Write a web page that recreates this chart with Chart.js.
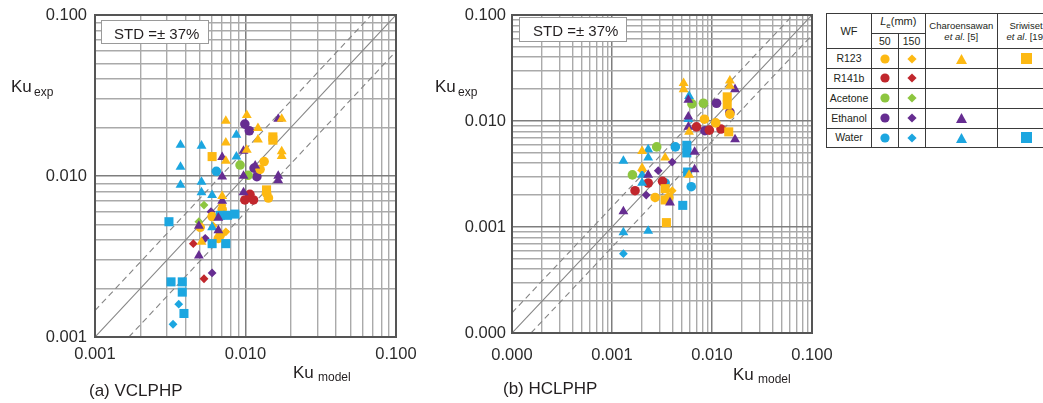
<!DOCTYPE html>
<html><head><meta charset="utf-8">
<script src="https://cdn.jsdelivr.net/npm/chart.js@4"></script>
<style>
html,body{margin:0;padding:0}
body{width:1043px;height:403px;overflow:hidden;background:#fff;position:relative;font-family:"Liberation Sans",Arial,sans-serif;color:#231f20}
canvas{position:absolute;top:0}
.t{position:absolute;white-space:nowrap;line-height:1}
.std{position:absolute;background:#fff;border:1.3px solid #9a9a9a;box-sizing:border-box;font-size:15px;line-height:1;white-space:nowrap}
#lg{position:absolute;left:826px;top:13px;border-collapse:collapse;table-layout:fixed;width:228px;background:#fff;color:#231f20}
#lg td{border:1.2px solid #3a3a3a;padding:0;text-align:center;vertical-align:middle;overflow:hidden;white-space:nowrap;font-size:10.5px;line-height:1}
#lg td.h{font-size:9.5px;line-height:11px}
#lg svg{display:block;margin:0 auto}
</style></head>
<body>
<canvas id="cv" width="420" height="403" style="left:0"></canvas>
<canvas id="ch" width="420" height="403" style="left:420px"></canvas>

<div class="std" style="left:101px;top:20px;width:108px;height:24px"><span style="position:absolute;left:12px;top:5px">STD =± 37%</span></div>
<div class="std" style="left:519px;top:17px;width:108px;height:25px"><span style="position:absolute;left:13px;top:5px">STD =± 37%</span></div>

<div class="t" style="left:11px;top:78px;font-size:17px">Ku</div>
<div class="t" style="left:34px;top:85.5px;font-size:12px">exp</div>
<div class="t" style="left:435px;top:78px;font-size:17px">Ku</div>
<div class="t" style="left:458px;top:85.5px;font-size:12px">exp</div>

<div class="t" style="left:293px;top:363.5px;font-size:17px">Ku</div>
<div class="t" style="left:318px;top:371px;font-size:12px">model</div>
<div class="t" style="left:733px;top:365.5px;font-size:17px">Ku</div>
<div class="t" style="left:758px;top:373px;font-size:12px">model</div>

<div class="t" style="left:89px;top:382px;font-size:17px">(a) VCLPHP</div>
<div class="t" style="left:503px;top:380px;font-size:17px">(b) HCLPHP</div>

<table id="lg">
<colgroup><col style="width:45px"><col style="width:26.5px"><col style="width:27px"><col style="width:72.5px"><col style="width:57px"></colgroup>
<tr style="height:19.5px"><td rowspan="2" style="font-size:11px">WF</td><td colspan="2" style="font-size:11px"><i>L</i><sub style="font-size:8px">e</sub>(mm)</td><td rowspan="2" class="h">Charoensawan<br><i>et al</i>. [5]</td><td rowspan="2" class="h">Sriwiset<br><i>et al</i>. [19]</td></tr>
<tr style="height:15.5px"><td>50</td><td>150</td></tr>
<tr style="height:20px"><td>R123</td><td id="m00"></td><td id="m01"></td><td id="m02"></td><td id="m03"></td></tr>
<tr style="height:19.5px"><td>R141b</td><td id="m10"></td><td id="m11"></td><td></td><td></td></tr>
<tr style="height:20px"><td>Acetone</td><td id="m20"></td><td id="m21"></td><td></td><td></td></tr>
<tr style="height:20px"><td>Ethanol</td><td id="m30"></td><td id="m31"></td><td id="m32"></td><td></td></tr>
<tr style="height:19px"><td>Water</td><td id="m40"></td><td id="m41"></td><td id="m42"></td><td id="m43"></td></tr>
</table>

<script>
// ---------- tick values & labels ----------
const V_TICK_VALUES = [0.001, 0.01, 0.1];
const V_TICK_LABELS = ['0.001', '0.010', '0.100'];
const H_TICK_VALUES = [0.0001, 0.001, 0.01, 0.1];
const H_TICK_LABELS = ['0.000', '0.001', '0.010', '0.100'];
const MINOR_STEPS = [1, 2, 3, 4, 5, 6, 7, 8, 9];

// ---------- (a) VCLPHP data  [Ku_model, Ku_exp] ----------
const V_R123_50   = [[0.0133,0.0123],[0.0125,0.0110],[0.0138,0.0078],[0.0142,0.0073],[0.0070,0.0062],[0.0060,0.0056],[0.0050,0.0048],[0.0066,0.0041],[0.0068,0.0043]];
const V_R123_150  = [[0.0061,0.0049],[0.0074,0.0045],[0.0070,0.0066]];
const V_R123_CH   = [[0.0074,0.0220],[0.0102,0.0239],[0.0121,0.0198],[0.0074,0.0161],[0.0121,0.0168],[0.0174,0.0226],[0.0174,0.0142],[0.0174,0.0133],[0.0074,0.0124],[0.0102,0.0145],[0.0070,0.0075],[0.0051,0.0039]];
const V_R123_SR   = [[0.0060,0.0132],[0.0152,0.0175],[0.0152,0.0167],[0.0138,0.0082]];
const V_R141B_50  = [[0.0099,0.0071],[0.0107,0.0077],[0.0113,0.0071]];
const V_R141B_150 = [[0.0045,0.0038],[0.0053,0.0023]];
const V_ACE_50    = [[0.0092,0.0117],[0.0104,0.0101]];
const V_ACE_150   = [[0.0053,0.0066],[0.0049,0.0052]];
const V_ETH_50    = [[0.0099,0.0210],[0.0106,0.0191],[0.0114,0.0112],[0.0119,0.0099]];
const V_ETH_150   = [[0.0059,0.0060],[0.0054,0.0041],[0.0060,0.0025]];
const V_ETH_CH    = [[0.0165,0.0226],[0.0097,0.0143],[0.0070,0.0131],[0.0070,0.0099],[0.0097,0.0100],[0.0116,0.0116],[0.0165,0.0100],[0.0165,0.0094],[0.0097,0.0079],[0.0070,0.0070],[0.0066,0.0055],[0.0066,0.0046],[0.0049,0.0049],[0.0049,0.0032]];
const V_WAT_50    = [[0.0064,0.0107]];
const V_WAT_150   = [[0.0036,0.0016],[0.0033,0.0012]];
const V_WAT_CH    = [[0.0037,0.0156],[0.0051,0.0154],[0.0037,0.0114],[0.0037,0.0088],[0.0051,0.0092],[0.0051,0.0079],[0.0060,0.0076],[0.0087,0.0180],[0.0087,0.0132],[0.0060,0.0048]];
const V_WAT_SR    = [[0.0031,0.0052],[0.0060,0.0038],[0.0074,0.0038],[0.0068,0.0057],[0.0076,0.0057],[0.0085,0.0058],[0.0032,0.0022],[0.0038,0.0022],[0.0038,0.0019],[0.0039,0.0014]];
const V_LINE_EQUAL = [[0.001,0.001],[0.1,0.1]];
const V_LINE_UPPER = [[0.001,0.00146],[0.0685,0.1]];
const V_LINE_LOWER = [[0.00168,0.001],[0.1,0.0595]];

// ---------- (b) HCLPHP data ----------
const H_R123_50   = [[0.0084,0.0104],[0.0109,0.0096],[0.0151,0.0116],[0.0027,0.0019],[0.0037,0.0019]];
const H_R123_150  = [[0.0020,0.0034],[0.0040,0.0022]];
const H_R123_CH   = [[0.0052,0.0227],[0.0052,0.0199],[0.0151,0.0240],[0.0151,0.0214],[0.0059,0.0079],[0.0034,0.0045],[0.0020,0.0052],[0.0020,0.0036],[0.0059,0.0031]];
const H_R123_SR   = [[0.0142,0.0169],[0.0142,0.0142],[0.0147,0.0079],[0.0034,0.0023],[0.0034,0.0018],[0.0035,0.0011]];
const H_R141B_50  = [[0.0070,0.0088],[0.0094,0.0082],[0.0123,0.0084],[0.0017,0.0022],[0.0023,0.0026],[0.0032,0.0027]];
const H_ACE_50    = [[0.0063,0.0145],[0.0082,0.0147],[0.0028,0.0057],[0.0016,0.0031]];
const H_ETH_50    = [[0.0111,0.0147],[0.0151,0.0121],[0.0085,0.0081]];
const H_ETH_150   = [[0.0029,0.0034],[0.0040,0.0041],[0.0022,0.0020]];
const H_ETH_CH    = [[0.0170,0.0199],[0.0058,0.0158],[0.0058,0.0110],[0.0058,0.0088],[0.0170,0.0067],[0.0067,0.0051],[0.0067,0.0035],[0.0023,0.0031],[0.0038,0.0017],[0.0013,0.0014]];
const H_WAT_50    = [[0.0043,0.0057],[0.0062,0.0024],[0.0034,0.0026]];
const H_WAT_150   = [[0.0013,0.00056]];
const H_WAT_CH    = [[0.0059,0.0172],[0.0058,0.0104],[0.0023,0.0054],[0.0023,0.0045],[0.0013,0.0042],[0.0020,0.0031],[0.0020,0.0026],[0.0013,0.00089],[0.0023,0.00092]];
const H_WAT_SR    = [[0.0056,0.0059],[0.0056,0.0050],[0.0057,0.0033],[0.0051,0.0016]];
const H_LINE_EQUAL = [[0.0001,0.0001],[0.1,0.1]];
const H_LINE_UPPER = [[0.0001,0.000155],[0.0645,0.1]];
const H_LINE_LOWER = [[0.000155,0.0001],[0.1,0.0645]];

// ---------- styles ----------
const COL = {R123:'#FDB913', R141b:'#C1272D', Ace:'#8DC63F', Eth:'#662D91', Wat:'#1CA6E0'};
const MARK = {c50:['circle',4.8], d150:['rectRot',4.4], ch:['triangle',5.7], sr:['rect',6.4]};
const FONT = '"Liberation Sans", Arial, sans-serif';

function pts(a){ return a.map(p => ({x:p[0], y:p[1]})); }
function build(groups, lines){
  const ds = [];
  groups.forEach(g => {
    const m = MARK[g[2]];
    ds.push({label:g[3], data:pts(g[0]), backgroundColor:g[1], borderColor:g[1], borderWidth:0,
      pointStyle:m[0], pointRadius:m[1], pointHoverRadius:m[1], showLine:false, order:1});
  });
  lines.forEach(l => ds.push({data:pts(l[0]), showLine:true, borderColor:'#858585', borderWidth:1.1,
      borderDash:l[1], pointRadius:0, fill:false, order:5}));
  return ds;
}
function isDec(vals, v){ return vals.some(d => Math.abs(d - v) / d < 1e-6); }
function axis(pos, vals, labels, fitSize, pad){
  return {
    type:'logarithmic', position:pos, min:vals[0], max:vals[vals.length-1],
    afterBuildTicks: s => {
      const t = [];
      vals.forEach((d,i) => {
        if (i < vals.length-1) MINOR_STEPS.forEach(m => t.push({value: +(d*m).toPrecision(6)}));
        else t.push({value:d});
      });
      s.ticks = t;
    },
    afterFit: s => {
      if (pos === 'left') s.width = fitSize; else s.height = fitSize;
      s.paddingTop = 0; s.paddingBottom = 0; s.paddingLeft = 0; s.paddingRight = 0;
    },
    ticks:{autoSkip:false, maxRotation:0, minRotation:0, padding:pad, color:'#2b2b2b',
      font:{family:FONT, size:16.5},
      callback: v => { const i = vals.findIndex(d => Math.abs(d-v)/d < 1e-6); return i >= 0 ? labels[i] : ''; }},
    grid:{drawTicks:false, color: c => (c.tick && isDec(vals, c.tick.value)) ? '#7e7e7e' : '#aaaaaa',
      lineWidth: c => (c.tick && isDec(vals, c.tick.value)) ? 1.5 : 1.4},
    border:{display:false}
  };
}
const frame = {id:'frame', afterDraw(ch){
  const a = ch.chartArea, c = ch.ctx;
  c.save(); c.strokeStyle = '#555555'; c.lineWidth = 2;
  c.strokeRect(a.left, a.top, a.right - a.left, a.bottom - a.top); c.restore();
}};
function make(id, groups, lines, vals, labels, yW, xH, rightPad, xPad, yPad){
  new Chart(document.getElementById(id), {
    type:'scatter',
    data:{datasets: build(groups, lines)},
    options:{responsive:false, animation:false, devicePixelRatio:1, events:[],
      layout:{padding:{left:0, top:15, right:rightPad, bottom:0}},
      plugins:{legend:{display:false}, tooltip:{enabled:false}},
      scales:{x: axis('bottom', vals, labels, xH, xPad), y: axis('left', vals, labels, yW, yPad)}},
    plugins:[frame]
  });
}
const DASH = [6,4];
make('cv', [
  [V_R123_CH, COL.R123, 'ch', 'R123 Charoensawan'], [V_ETH_CH, COL.Eth, 'ch', 'Ethanol Charoensawan'], [V_WAT_CH, COL.Wat, 'ch', 'Water Charoensawan'],
  [V_R123_SR, COL.R123, 'sr', 'R123 Sriwiset'], [V_WAT_SR, COL.Wat, 'sr', 'Water Sriwiset'],
  [V_R123_50, COL.R123, 'c50', 'R123 50'], [V_R123_150, COL.R123, 'd150', 'R123 150'],
  [V_R141B_50, COL.R141b, 'c50', 'R141b 50'], [V_R141B_150, COL.R141b, 'd150', 'R141b 150'],
  [V_ACE_50, COL.Ace, 'c50', 'Acetone 50'], [V_ACE_150, COL.Ace, 'd150', 'Acetone 150'],
  [V_ETH_50, COL.Eth, 'c50', 'Ethanol 50'], [V_ETH_150, COL.Eth, 'd150', 'Ethanol 150'],
  [V_WAT_50, COL.Wat, 'c50', 'Water 50'], [V_WAT_150, COL.Wat, 'd150', 'Water 150']
], [[V_LINE_EQUAL, []], [V_LINE_UPPER, DASH], [V_LINE_LOWER, DASH]],
  V_TICK_VALUES, V_TICK_LABELS, 95, 66, 24, 8, 8);

make('ch', [
  [H_R123_CH, COL.R123, 'ch', 'R123 Charoensawan'], [H_ETH_CH, COL.Eth, 'ch', 'Ethanol Charoensawan'], [H_WAT_CH, COL.Wat, 'ch', 'Water Charoensawan'],
  [H_R123_SR, COL.R123, 'sr', 'R123 Sriwiset'], [H_WAT_SR, COL.Wat, 'sr', 'Water Sriwiset'],
  [H_R123_50, COL.R123, 'c50', 'R123 50'], [H_R123_150, COL.R123, 'd150', 'R123 150'],
  [H_R141B_50, COL.R141b, 'c50', 'R141b 50'],
  [H_ACE_50, COL.Ace, 'c50', 'Acetone 50'],
  [H_ETH_50, COL.Eth, 'c50', 'Ethanol 50'], [H_ETH_150, COL.Eth, 'd150', 'Ethanol 150'],
  [H_WAT_50, COL.Wat, 'c50', 'Water 50'], [H_WAT_150, COL.Wat, 'd150', 'Water 150']
], [[H_LINE_EQUAL, []], [H_LINE_UPPER, DASH], [H_LINE_LOWER, DASH]],
  H_TICK_VALUES, H_TICK_LABELS, 92, 70, 28, 13, 6);

// ---------- legend table markers ----------
const SHAPES = {
  c50: c => `<svg width="10" height="10"><circle cx="5" cy="5" r="4.6" fill="${c}"/></svg>`,
  d150: c => `<svg width="10" height="10"><polygon points="5,0.4 9.6,5 5,9.6 0.4,5" fill="${c}"/></svg>`,
  ch: c => `<svg width="11" height="10"><polygon points="5.5,0 11,10 0,10" fill="${c}"/></svg>`,
  sr: c => `<svg width="11" height="11"><rect x="0" y="0" width="11" height="11" fill="${c}"/></svg>`
};
const LEGEND_ROWS = [['R123', ['c50','d150','ch','sr']], ['R141b', ['c50','d150']], ['Ace', ['c50','d150']], ['Eth', ['c50','d150','ch']], ['Wat', ['c50','d150','ch','sr']]];
LEGEND_ROWS.forEach((r, i) => r[1].forEach((s, j) => { document.getElementById('m'+i+j).innerHTML = SHAPES[s](COL[r[0]]); }));
</script>
</body></html>
